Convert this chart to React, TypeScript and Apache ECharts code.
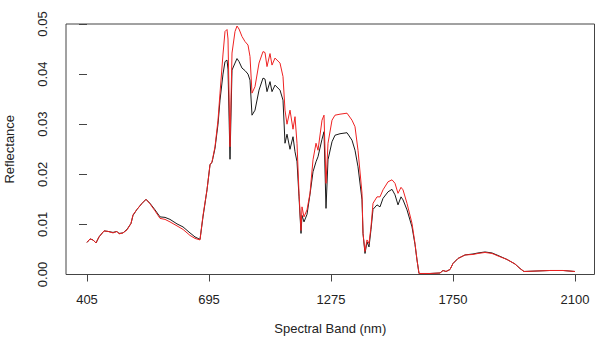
import React, { useEffect, useRef } from "react";
import * as echarts from "echarts";

// band index positions (equal spacing between labelled bands)
const tickPositions = [0, 122, 244, 366, 488];
const tickLabels = ["405", "695", "1275", "1750", "2100"];

const bands = [
  0, 3, 6, 9, 12, 17, 21, 26, 30, 32, 36, 40, 44, 46, 50, 55, 59, 63, 68, 73,
  78, 83, 90, 96, 103, 108, 113, 116, 120, 123, 125, 126, 128, 131, 133, 136, 138, 140, 141, 143,
  145, 148, 150, 152, 155, 158, 161, 163, 165, 168, 172, 176, 178, 180, 183, 185, 188, 193, 196, 198,
  200, 203, 206, 208, 210, 212, 214, 215, 217, 220, 223, 226, 229, 231, 235, 237, 239, 241, 245, 248,
  253, 260, 265, 268, 271, 275, 276, 278, 280, 282, 284, 286, 290, 293, 296, 301, 305, 308, 311, 314,
  316, 320, 325, 328, 330, 332, 343, 353, 356, 359, 363, 366, 371, 378, 386, 391, 398, 405, 411, 420,
  428, 433, 437, 450, 463, 476, 488,
];

const seriesBlack = [
  0.0064, 0.0071, 0.0069, 0.0063, 0.0075, 0.0087, 0.0086, 0.0084, 0.0086, 0.0082, 0.0083, 0.009, 0.0102, 0.0118, 0.013, 0.0142, 0.015, 0.0142, 0.0129, 0.0115,
  0.0114, 0.011, 0.0101, 0.0095, 0.0083, 0.0075, 0.007, 0.0115, 0.0169, 0.0219, 0.0224, 0.0233, 0.0252, 0.03, 0.0348, 0.04, 0.0425, 0.0428, 0.041, 0.023,
  0.0408, 0.0422, 0.0431, 0.0425, 0.0412, 0.0407, 0.04, 0.0388, 0.0318, 0.0328, 0.0368, 0.0392, 0.039, 0.0365, 0.0385, 0.0365, 0.0378, 0.0368, 0.0348, 0.0262,
  0.028, 0.025, 0.0275, 0.0245, 0.0225, 0.0155, 0.0082, 0.0118, 0.0105, 0.012, 0.016, 0.0205, 0.0225, 0.0235, 0.027, 0.0285, 0.0132, 0.0229, 0.0265, 0.0278,
  0.0281, 0.0283, 0.0268, 0.0248, 0.0215, 0.0149, 0.0082, 0.0042, 0.0065, 0.0055, 0.009, 0.013, 0.0139, 0.0135, 0.0152, 0.0165, 0.017, 0.0159, 0.0139, 0.0155,
  0.0149, 0.0129, 0.0095, 0.006, 0.0029, 0.0002, 0.0002, 0.0003, 0.0008, 0.0006, 0.001, 0.0022, 0.0032, 0.0039, 0.0041, 0.0043, 0.0045, 0.0043, 0.0038, 0.003,
  0.0021, 0.0012, 0.0006, 0.0007, 0.0008, 0.0008, 0.0006,
];

const seriesRed = [
  0.0064, 0.0071, 0.0069, 0.0063, 0.0075, 0.0087, 0.0086, 0.0083, 0.0086, 0.0081, 0.0083, 0.0089, 0.0102, 0.0119, 0.013, 0.0142, 0.015, 0.0141, 0.0127, 0.0112,
  0.011, 0.0105, 0.0097, 0.009, 0.0078, 0.0072, 0.0069, 0.0118, 0.0169, 0.0219, 0.0225, 0.0235, 0.0255, 0.0308, 0.0362, 0.044, 0.0485, 0.0489, 0.047, 0.0255,
  0.0442, 0.0485, 0.0496, 0.049, 0.0475, 0.0465, 0.0458, 0.0435, 0.0362, 0.0375, 0.0422, 0.0445, 0.0443, 0.0415, 0.0441, 0.0418, 0.0432, 0.0422, 0.0395, 0.0328,
  0.03, 0.0328, 0.029, 0.0315, 0.0262, 0.0162, 0.0088, 0.0135, 0.0115, 0.0129, 0.0162, 0.0229, 0.0262, 0.0248, 0.0308, 0.0318, 0.0182, 0.0262, 0.0308, 0.0318,
  0.032, 0.0322, 0.0308, 0.0295, 0.0248, 0.0162, 0.0082, 0.0046, 0.0069, 0.0062, 0.0095, 0.0142, 0.0155, 0.0155, 0.0169, 0.0185, 0.0189, 0.0182, 0.0162, 0.0174,
  0.0169, 0.0142, 0.0102, 0.0062, 0.0029, 0.0002, 0.0002, 0.0003, 0.0008, 0.0006, 0.001, 0.0022, 0.0032, 0.0039, 0.004, 0.0042, 0.0044, 0.0042, 0.0037, 0.003,
  0.0021, 0.0012, 0.0006, 0.0007, 0.0008, 0.0008, 0.0006,
];

const FONT = "'Liberation Sans', Arial, sans-serif";

export default function App() {
  const ref = useRef<HTMLDivElement>(null);
  useEffect(() => {
    if (!ref.current) return;
    const chart = echarts.init(ref.current, undefined, { renderer: "svg" });
    const toPairs = (vals: number[]) => bands.map((b, i) => [b, vals[i]]);
    chart.setOption({
      animation: false,
      backgroundColor: "#ffffff",
      grid: {
        left: 66,
        right: 7.5,
        top: 24,
        bottom: 65.5,
        containLabel: false,
        outerBoundsMode: "none",
        show: true,
        borderColor: "#444",
        borderWidth: 1,
        backgroundColor: "transparent",
      },
      xAxis: {
        type: "value",
        min: -21,
        max: 507.5,
        name: "Spectral Band (nm)",
        nameLocation: "middle",
        nameGap: 47,
        nameTextStyle: { fontFamily: FONT, fontSize: 13, color: "#222" },
        axisLine: { show: false },
        axisTick: {
          show: true,
          length: 7,
          inside: false,
          customValues: tickPositions,
          lineStyle: { color: "#444", width: 1 },
        },
        axisLabel: {
          show: true,
          customValues: tickPositions,
          margin: 18,
          fontFamily: FONT,
          fontSize: 13,
          color: "#222",
          formatter: (v: number) => {
            const i = tickPositions.indexOf(v);
            return i >= 0 ? tickLabels[i] : "";
          },
        },
        splitLine: { show: false },
      },
      yAxis: {
        type: "value",
        min: 0,
        max: 0.05,
        interval: 0.01,
        name: "Reflectance",
        nameLocation: "middle",
        nameGap: 50,
        nameTextStyle: { fontFamily: FONT, fontSize: 13, color: "#222" },
        axisLine: { show: false },
        axisTick: { show: true, length: 8, inside: false, lineStyle: { color: "#444", width: 1 } },
        axisLabel: {
          rotate: 90,
          margin: 17,
          fontFamily: FONT,
          fontSize: 13,
          color: "#222",
          formatter: (v: number) => v.toFixed(2),
        },
        splitLine: { show: false },
      },
      series: [
        {
          type: "line",
          name: "black",
          data: toPairs(seriesBlack),
          showSymbol: false,
          symbol: "none",
          lineStyle: { color: "#1a1a1a", width: 1 },
          z: 2,
        },
        {
          type: "line",
          name: "red",
          data: toPairs(seriesRed),
          showSymbol: false,
          symbol: "none",
          lineStyle: { color: "#ee2222", width: 1 },
          z: 3,
        },
      ],
    });
    return () => chart.dispose();
  }, []);
  return (
    <div
      ref={ref}
      style={{ position: "absolute", left: 0, top: 0, width: 602, height: 340 }}
    />
  );
}
